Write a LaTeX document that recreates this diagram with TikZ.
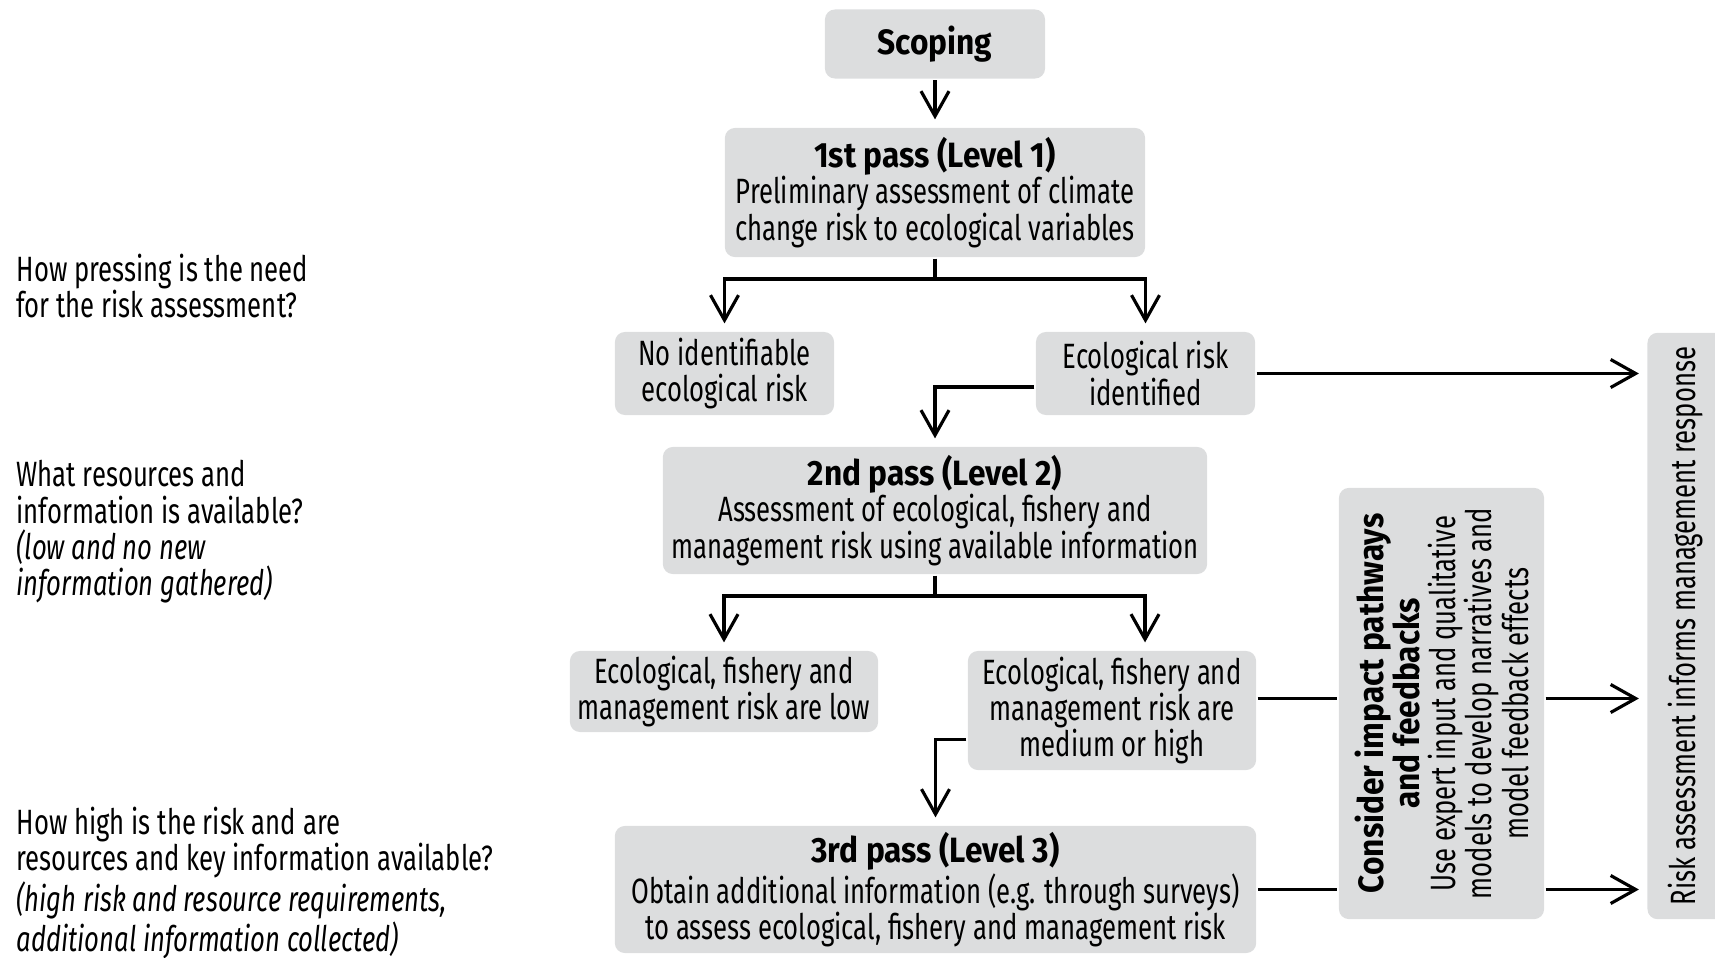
\documentclass[tikz,border=0pt]{standalone}
\usepackage{fontspec}
\setmainfont{Fira Sans}[
	UprightFeatures={FakeStretch=0.73},
	ItalicFeatures={FakeStretch=0.73},
	BoldFeatures={FakeStretch=0.9}
]
\usepackage{tikz}
\usetikzlibrary{arrows.meta,positioning}
\definecolor{boxgray}{HTML}{DCDDDE}

\begin{document}
\begin{tikzpicture}[
			x=0.01cm, y=-0.01cm,
			>={Straight Barb[length=2.5mm,width=2.8mm]},
			line width=0.9pt,
			font=\fontsize{10}{10.3}\selectfont,
			stage/.style={
				rectangle,
				rounded corners=1mm,
				fill=boxgray,
				draw=none,
				align=center,
				inner sep=0pt
			},
			question/.style={
				anchor=north west,
				align=left,
				inner sep=0pt
			},
			flow/.style={
				->,
				shorten >=0.7mm
			}
			]
			\useasboundingbox (0,0) rectangle (1715,957);
			
			% We start by placing the blocks
			
			\node [stage, minimum width=2.2cm, minimum height=0.69cm] (scoping) at (935,44)
			{\textbf{Scoping}};
			
			\node [stage, minimum width=4.2cm, minimum height=1.29cm] (pass1) at (935,192.5)
			{\textbf{1st pass (Level 1)}\\Preliminary assessment of climate\\change risk to ecological variables};
			
			\node [stage, minimum width=2.19cm, minimum height=0.83cm] (noRisk) at (724.5,373.5)
			{No identifiable\\ecological risk};
			
			\node [stage, minimum width=2.19cm, minimum height=0.83cm] (ecoRisk) at (1145.5,373.5)
			{Ecological risk\\identified};
			
			\node [stage, minimum width=5.44cm, minimum height=1.27cm] (pass2) at (935,510.5)
			{\textbf{2nd pass (Level 2)}\\Assessment of ecological, fishery and\\management risk using available information};
			
			\node [stage, minimum width=3.08cm, minimum height=0.81cm] (lowRisk) at (724,691.5)
			{Ecological, fishery and\\management risk are low};
			
			\node [stage, minimum width=2.88cm, minimum height=1.19cm] (highRisk) at (1112,710.5)
			{Ecological, fishery and\\management risk are\\medium or high};
			
			\node [stage, minimum width=6.41cm, minimum height=1.27cm] (pass3) at (935.5,889.5)
			{\textbf{3rd pass (Level 3)}\\Obtain additional information (e.g. through surveys)\\to assess ecological, fishery and management risk};
			
			\node [stage, rotate=90, minimum width=4.31cm, minimum height=2.05cm] (impact) at (1441.5,703.5)
			{\textbf{Consider impact pathways}\\\textbf{and feedbacks}\\Use expert input and qualitative\\models to develop narratives and\\model feedback effects};
			
			\node [stage, rotate=90, minimum width=5.86cm, minimum height=0.77cm] (response) at (1686,626)
			{Risk assessment informs management response};
			
			% questions on the left
			
			\node [question] (q1) at (15,252)
			{How pressing is the need\\for the risk assessment?};
			
			\node [question] (q2) at (15,459)
			{What resources and\\information is available?\\\textit{(low and no new}\\\textit{information gathered)}};
			
			\node [question] (q3) at (15,805)
			{How high is the risk and are\\resources and key information available?\\\textit{(high risk and resource requirements,}\\\textit{additional information collected)}};
			
			% then the arrows
			
			\coordinate (split1) at (935,279);
			\coordinate (split2) at (935,596);
			
			\draw [flow] (scoping) -- (pass1);
			\draw (pass1.south) -- (split1);
			\draw [flow] (split1) -| (noRisk);
			\draw [flow] (split1) -| (ecoRisk);
			\draw [flow] ([yshift=-0.135cm]ecoRisk.west) -| (pass2);
			\draw [flow] (ecoRisk.east) -- (ecoRisk.east -| response.north);
			
			\draw (pass2.south) -- (split2);
			\draw [flow] (split2) -| (lowRisk);
			\draw [flow] (split2) -| ([xshift=0.33cm]highRisk.north);
			\draw [flow] ([yshift=-0.29cm]highRisk.west) -| (pass3);
			
			\draw ([yshift=0.12cm]highRisk.east) coordinate (h1) -- (h1 -| impact.north);
			\draw [flow] (h1 -| impact.south) -- (h1 -| response.north);
			\draw (pass3.east) -- (pass3.east -| impact.north);
			\draw [flow] (pass3.east -| impact.south) -- (pass3.east -| response.north);
			
\end{tikzpicture}
\end{document}
